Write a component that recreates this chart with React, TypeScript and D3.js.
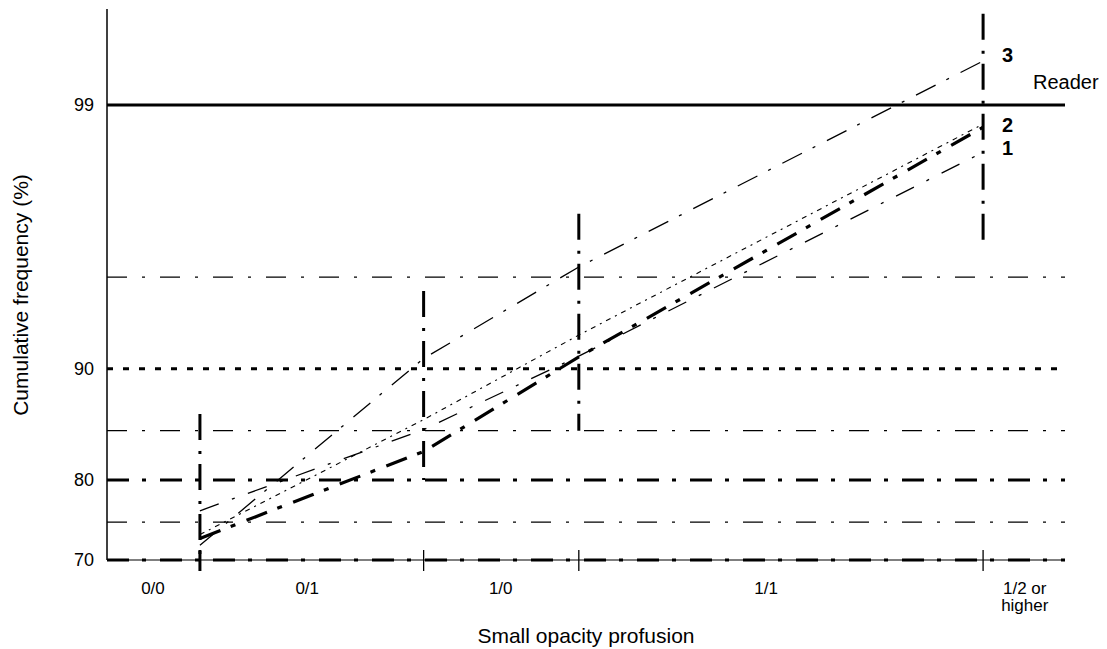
import React from "react";
import * as d3 from "d3";

// ---------- data ----------
const categories = ["0/0", "0/1", "1/0", "1/1", "1/2 or higher"];
// category label centres and boundaries on a 0-100 profusion axis
const categoryCenters = [4.8, 20.9, 41.1, 68.8, 95.8];
const boundaries = [9.7, 33.05, 49.25, 91.45];

// cumulative frequency (%) at each category boundary
const reader1 = [76.4, 85.1, 90.85, 98.38];
const reader2 = [72.9, 83.0, 90.8, 98.74];
const reader2b = [73.4, 86.0, 92.15, 98.78];
const reader3 = [72.0, 90.7, 95.4, 99.38];

// vertical range bars at each boundary (top %, bottom %)
const rangeTop = [86.5, 94.4, 97.1, 99.64];
const rangeBottom = [70, 80, 85, 96.0];

const yTicks = [70, 80, 90, 99];
const refLinesThin = [75, 85, 95];
const yMin = 70;
const yMax = 99;
const yTop = 99.66;

// inverse normal CDF (probit) for the probability-scale axis
function probit(p: number): number {
  const a = [-3.969683028665376e1, 2.209460984245205e2, -2.759285104469687e2, 1.38357751867269e2, -3.066479806614716e1, 2.506628277459239];
  const b = [-5.447609879822406e1, 1.615858368580409e2, -1.556989798598866e2, 6.680131188771972e1, -1.328068155288572e1];
  const c = [-7.784894002430293e-3, -3.223964580411365e-1, -2.400758277161838, -2.549732539343734, 4.374664141464968, 2.938163982698783];
  const d = [7.784695709041462e-3, 3.224671290700398e-1, 2.445134137142996, 3.754408661907416];
  const pl = 0.02425;
  if (p < pl) {
    const q = Math.sqrt(-2 * Math.log(p));
    return (((((c[0] * q + c[1]) * q + c[2]) * q + c[3]) * q + c[4]) * q + c[5]) / ((((d[0] * q + d[1]) * q + d[2]) * q + d[3]) * q + 1);
  }
  if (p <= 1 - pl) {
    const q = p - 0.5;
    const r = q * q;
    return ((((((a[0] * r + a[1]) * r + a[2]) * r + a[3]) * r + a[4]) * r + a[5]) * q) / (((((b[0] * r + b[1]) * r + b[2]) * r + b[3]) * r + b[4]) * r + 1);
  }
  const q = Math.sqrt(-2 * Math.log(1 - p));
  return -(((((c[0] * q + c[1]) * q + c[2]) * q + c[3]) * q + c[4]) * q + c[5]) / ((((d[0] * q + d[1]) * q + d[2]) * q + d[3]) * q + 1);
}

const W = 1107;
const H = 649;
const FONT = "'Liberation Sans', Arial, Helvetica, sans-serif";

export default function App() {
  const x = d3.scaleLinear().domain([0, 100]).range([107, 1065]);
  const yl = d3.scaleLinear().domain([probit(yMin / 100), probit(yMax / 100)]).range([560, 105]);
  const y = (v: number) => yl(probit(v / 100));

  const line = d3
    .line<number>()
    .x((_, i) => x(boundaries[i]))
    .y((v) => y(v));

  const x0 = x(0);
  const x1 = x(100);
  const yBase = y(yMin);

  const series = [
    { vals: reader3, w: 1.3, dash: "22,12,3,13" },
    { vals: reader1, w: 1.3, dash: "20,14,3,14" },
    { vals: reader2b, w: 1.1, dash: "5,5,2,5" },
    { vals: reader2, w: 3.2, dash: "22,11,5,12" },
  ];

  return (
    <svg width={W} height={H} style={{ position: "absolute", left: 0, top: 0, background: "#fff" }}>
      <rect x={0} y={0} width={W} height={H} fill="#fff" />
      {/* y axis */}
      <line x1={x0} x2={x0} y1={y(yTop)} y2={yBase} stroke="#000" strokeWidth={1.5} />
      {/* x axis */}
      <line x1={x0} x2={x1} y1={yBase} y2={yBase} stroke="#000" strokeWidth={1.2} />
      <line x1={x0} x2={x1} y1={yBase} y2={yBase} stroke="#000" strokeWidth={3} strokeDasharray="22,13,4,14" />
      {/* reference lines */}
      {refLinesThin.map((v) => (
        <line key={v} x1={x0} x2={x1} y1={y(v)} y2={y(v)} stroke="#000" strokeWidth={1.2} strokeDasharray="20,15,3,15" />
      ))}
      <line x1={x0} x2={x1} y1={y(80)} y2={y(80)} stroke="#000" strokeWidth={3} strokeDasharray="22,13,4,14" />
      <line x1={x0} x2={x1} y1={y(90)} y2={y(90)} stroke="#000" strokeWidth={3} strokeDasharray="6,10" />
      <line x1={x0} x2={x1} y1={y(99)} y2={y(99)} stroke="#000" strokeWidth={3} />
      {/* x ticks */}
      {boundaries.map((b, i) => (
        <line key={"t" + i} x1={x(b)} x2={x(b)} y1={yBase - 10} y2={yBase + 11} stroke="#000" strokeWidth={i === 0 ? 3 : 1.3} />
      ))}
      {/* vertical range bars */}
      {boundaries.map((b, i) => (
        <line key={"v" + i} x1={x(b)} x2={x(b)} y1={y(rangeTop[i])} y2={y(rangeBottom[i])} stroke="#000" strokeWidth={3} strokeDasharray="26,11,3,10" />
      ))}
      {/* reader lines */}
      {series.map((s, i) => (
        <path key={"s" + i} d={line(s.vals) || ""} fill="none" stroke="#000" strokeWidth={s.w} strokeDasharray={s.dash} />
      ))}
      {/* y tick labels */}
      {yTicks.map((t) => (
        <text key={"yl" + t} x={94} y={y(t)} dy="0.35em" textAnchor="end" fontFamily={FONT} fontSize={18} fill="#000">
          {t}
        </text>
      ))}
      {/* x category labels */}
      {categories.map((c, i) => {
        const parts = c === "1/2 or higher" ? ["1/2 or", "higher"] : [c];
        return (
          <text key={"xl" + i} x={x(categoryCenters[i])} y={594} textAnchor="middle" fontFamily={FONT} fontSize={17} fill="#000">
            {parts.map((p, j) => (
              <tspan key={j} x={x(categoryCenters[i])} dy={j === 0 ? 0 : 17}>
                {p}
              </tspan>
            ))}
          </text>
        );
      })}
      {/* reader labels */}
      <text x={1002} y={y(reader3[3]) + 1} fontFamily={FONT} fontSize={20} fontWeight={700} fill="#000">3</text>
      <text x={1002} y={y(reader2[3]) + 5} fontFamily={FONT} fontSize={20} fontWeight={700} fill="#000">2</text>
      <text x={1002} y={y(reader1[3]) + 3} fontFamily={FONT} fontSize={20} fontWeight={700} fill="#000">1</text>
      <text x={1033} y={89} fontFamily={FONT} fontSize={20} fill="#000">Reader</text>
      {/* axis titles */}
      <text x={586} y={643} textAnchor="middle" fontFamily={FONT} fontSize={21} fill="#000">
        Small opacity profusion
      </text>
      <text transform="translate(28,295) rotate(-90)" textAnchor="middle" fontFamily={FONT} fontSize={21} fill="#000">
        Cumulative frequency (%)
      </text>
    </svg>
  );
}
